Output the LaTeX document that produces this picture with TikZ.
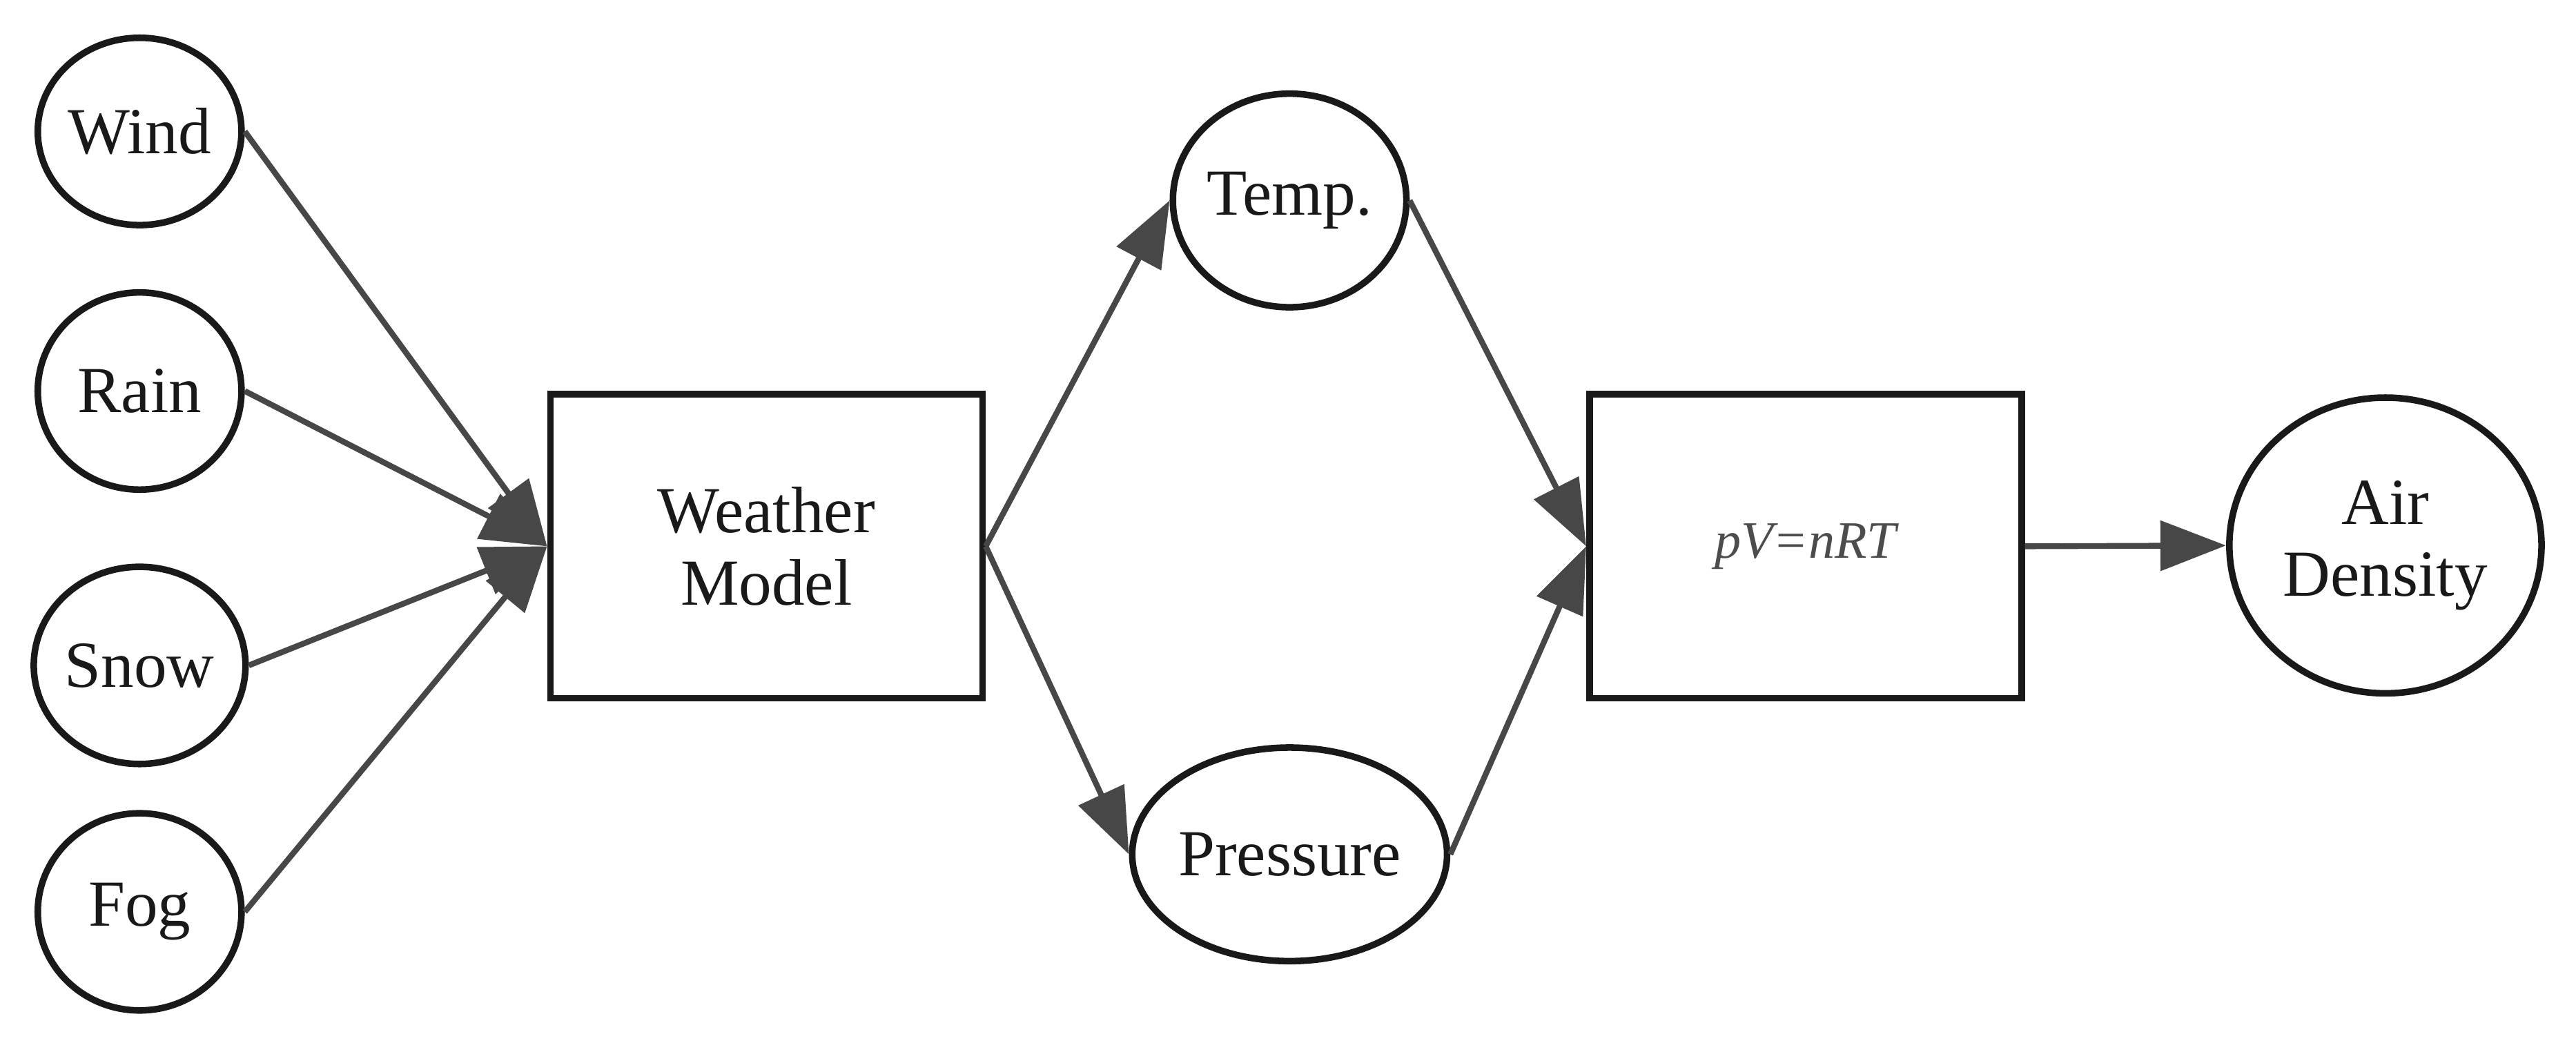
\documentclass[tikz,border=0pt]{standalone}
\usepackage{fontspec}
\setmainfont{Liberation Serif}
\usetikzlibrary{arrows.meta,shapes.geometric}
\begin{document}
\begin{tikzpicture}[x=1pt,y=1pt,
  every node/.style={font=\fontsize{40}{44}\selectfont, text=black!90},
  circ/.style={draw=black!90, line width=4pt, ellipse, inner sep=0pt},
  box/.style={draw=black!90, line width=4pt, rectangle, minimum width=263pt, minimum height=185pt, align=center},
  arr/.style={draw=black!72, line width=3.5pt, -{Triangle[length=40pt,width=30pt]}}]
\useasboundingbox (0,0) rectangle (1568,-640);
\node[circ, minimum width=124pt, minimum height=114pt] (wind) at (85,-80) {Wind};
\node[circ, minimum width=124pt, minimum height=120pt] (rain) at (85,-238) {Rain};
\node[circ, minimum width=124pt, minimum height=120pt] (snow) at (85,-405) {Snow};
\node[circ, minimum width=124pt, minimum height=120pt] (fog) at (85,-555) {Fog};
\node[box] (wm) at (466.5,-332.5) {Weather\\Model};
\node[circ, minimum width=140pt, minimum height=130pt] (temp) at (785,-122) {Temp.};
\node[circ, minimum width=140pt, minimum height=130pt] (pres) at (785,-520) {Pressure};
\node[box] (pv) at (1099,-332.5) {\textcolor{black!70}{\fontsize{32}{36}\selectfont\itshape pV=nRT}};
\node[circ, minimum width=190pt, minimum height=180pt, align=center] (air) at (1452,-332) {Air\\Density};
\draw[arr] (wind.east) -- (wm.west);
\draw[arr] (rain.east) -- (wm.west);
\draw[arr] (snow.east) -- (wm.west);
\draw[arr] (fog.east) -- (wm.west);
\draw[arr] (wm.east) -- (temp.west);
\draw[arr] (wm.east) -- (pres.west);
\draw[arr] (temp.east) -- (pv.west);
\draw[arr] (pres.east) -- (pv.west);
\draw[arr] (pv.east) -- (air.west);
\end{tikzpicture}
\end{document}
